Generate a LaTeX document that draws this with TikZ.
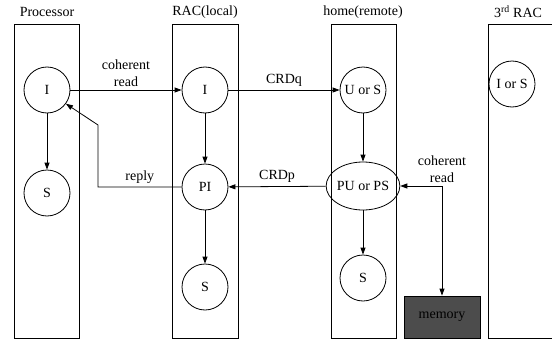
\documentclass[tikz,border=0pt]{standalone}
\usepackage{fontspec}
\setmainfont{Liberation Serif}
\usetikzlibrary{arrows.meta,shapes.geometric}

\begin{document}
\begin{tikzpicture}[x=1pt,y=-1pt, line width=0.8pt,
	state/.style={circle, draw, minimum size=46pt, inner sep=0pt},
	pstate/.style={ellipse, draw, minimum width=64pt, minimum height=48pt, inner sep=0pt},
	>={Triangle[length=7pt,width=5pt]}, font=\fontsize{14}{17}\selectfont]

\useasboundingbox (0,0) rectangle (552,340);

% the four agents
\draw (14,24) rectangle (79,338);
\draw (172,24) rectangle (238,338);
\draw (331,24) rectangle (396,338);
\draw (560,24) -| (488,338) -- (560,338);
\node (lP) at (47,12) {Processor};
\node (lR) at (205,12) {RAC(local)};
\node (lH) at (363,12) {home(remote)};
\node (lT) at (518,12) {3\textsuperscript{rd} RAC};

% states
\node[state] (PI) at (47,90) {I};
\node[state] (PS) at (47,193) {S};
\node[state] (RI) at (205,90) {I};
\node[state] (RPI) at (205,187) {PI};
\node[state] (RS) at (205,287) {S};
\node[state] (HU) at (363,90) {U or S};
\node[pstate] (HP) at (363,186) {PU or PS};
\node[state] (HS) at (363,278) {S};
\node[state] (TI) at (512,84) {I or S};
\node[draw, fill=black!70, minimum width=76pt, minimum height=42pt,
	text=black] (mem) at (442,317) {memory};

% transitions
\draw[->] (PI) -- (PS);
\draw[->] (RI) -- (RPI);
\draw[->] (RPI) -- (RS);
\draw[->] (HU) -- (HP);
\draw[->] (HP) -- (HS);

% messages
\draw[->] (PI) -- node[above, align=center] {coherent\\read} (RI);
\draw[->] (RI) -- node[above] {CRDq} (HU);
\draw[->] (HP) -- node[above] {CRDp} (RPI);
\draw[->] (RPI) -- node[above] {reply} (98,187) -- (98,125) -- (PI.-36);
\coordinate (bend) at (442,186);
\draw[<->] (HP) -- (bend) -- (mem);
\node[above, align=center] (cr) at (bend) {coherent\\read};
\end{tikzpicture}
\end{document}
